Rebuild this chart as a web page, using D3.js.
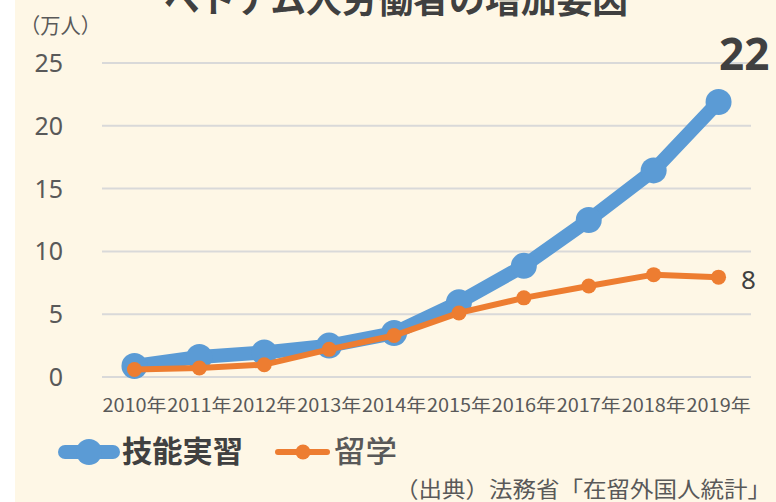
<!DOCTYPE html>
<html><head><meta charset="utf-8">
<script src="https://cdn.jsdelivr.net/npm/d3@7"></script>
<style>html,body{margin:0;padding:0;background:#fff;}svg{display:block;}</style>
</head><body>
<script>
const years = ["2010年","2011年","2012年","2013年","2014年","2015年","2016年","2017年","2018年","2019年"];
const ginou = [0.88, 1.6, 1.95, 2.5, 3.5, 5.95, 8.85, 12.5, 16.45, 21.9];
const ryugaku = [0.6, 0.72, 0.98, 2.2, 3.3, 5.1, 6.3, 7.25, 8.15, 7.95];
const yTicks = [0, 5, 10, 15, 20, 25];
const seriesNames = ["技能実習", "留学"];

const W = 776, H = 502;
const svg = d3.select("body").append("svg").attr("width", W).attr("height", H);
svg.append("rect").attr("x", 15).attr("y", 0).attr("width", W - 15).attr("height", H).attr("fill", "#FEF7E6");

const x = d3.scaleBand().domain(years).range([102, 751]);
const y = d3.scaleLinear().domain([0, 25]).range([377, 63]);
const cx = d => x(d) + x.bandwidth() / 2;
const font = "'Noto Sans CJK JP','Noto Sans',sans-serif";

// gridlines
svg.append("g").selectAll("line").data(yTicks).join("line")
  .attr("x1", 102).attr("x2", 751)
  .attr("y1", d => y(d)).attr("y2", d => y(d))
  .attr("stroke", "#D9D9D9").attr("stroke-width", 2);

// y labels
svg.append("g").selectAll("text").data(yTicks).join("text")
  .attr("x", 63).attr("y", d => y(d) + 9)
  .attr("text-anchor", "end").attr("font-family", "'Noto Sans',sans-serif")
  .attr("font-size", 25).attr("fill", "#595959").text(d => d);

// x labels
svg.append("g").selectAll("text").data(years).join("text")
  .attr("x", d => cx(d)).attr("y", 412)
  .attr("text-anchor", "middle").attr("font-family", font)
  .attr("font-size", 18).attr("fill", "#595959")
  .attr("textLength", 64).attr("lengthAdjust", "spacingAndGlyphs")
  .text(d => d);

const line = d3.line().x((d, i) => cx(years[i])).y(d => y(d));

// blue series
svg.append("path").datum(ginou).attr("d", line).attr("fill", "none")
  .attr("stroke", "#5B9BD5").attr("stroke-width", 14).attr("stroke-linejoin", "round");
svg.append("g").selectAll("circle").data(ginou).join("circle")
  .attr("cx", (d, i) => cx(years[i])).attr("cy", d => y(d)).attr("r", 13).attr("fill", "#5B9BD5");

// orange series
svg.append("path").datum(ryugaku).attr("d", line).attr("fill", "none")
  .attr("stroke", "#ED7D31").attr("stroke-width", 6).attr("stroke-linejoin", "round");
svg.append("g").selectAll("circle").data(ryugaku).join("circle")
  .attr("cx", (d, i) => cx(years[i])).attr("cy", d => y(d)).attr("r", 7.5).attr("fill", "#ED7D31");

// value labels
svg.append("text").attr("x", 719).attr("y", 70).attr("font-family", "'Noto Sans',sans-serif")
  .attr("font-size", 44).attr("font-weight", "bold").attr("fill", "#404040")
  .text(Math.round(ginou[ginou.length - 1]));
svg.append("text").attr("x", 741).attr("y", 289).attr("font-family", "'Noto Sans',sans-serif")
  .attr("font-size", 26).attr("fill", "#404040")
  .text(Math.round(ryugaku[ryugaku.length - 1]));

// title (partially cut at top)
svg.append("text").attr("x", 396).attr("y", 13).attr("text-anchor", "middle")
  .attr("font-family", font).attr("font-size", 36).attr("font-weight", "bold").attr("fill", "#404040")
  .attr("textLength", 464).attr("lengthAdjust", "spacingAndGlyphs")
  .text("ベトナム人労働者の増加要因");

// unit
svg.append("text").attr("x", 20).attr("y", 33).attr("font-family", font)
  .attr("font-size", 21).attr("fill", "#595959")
  .attr("textLength", 81).attr("lengthAdjust", "spacingAndGlyphs").text("（万人）");

// legend
const lg = svg.append("g");
lg.append("line").attr("x1", 65).attr("x2", 113).attr("y1", 452).attr("y2", 452)
  .attr("stroke", "#5B9BD5").attr("stroke-width", 14).attr("stroke-linecap", "round");
lg.append("circle").attr("cx", 89).attr("cy", 452).attr("r", 13).attr("fill", "#5B9BD5");
lg.append("text").attr("x", 122).attr("y", 462).attr("font-family", font)
  .attr("font-size", 30).attr("font-weight", "bold").attr("fill", "#404040")
  .attr("textLength", 121).attr("lengthAdjust", "spacingAndGlyphs").text(seriesNames[0]);
lg.append("line").attr("x1", 278).attr("x2", 327).attr("y1", 452).attr("y2", 452)
  .attr("stroke", "#ED7D31").attr("stroke-width", 6).attr("stroke-linecap", "round");
lg.append("circle").attr("cx", 303).attr("cy", 452).attr("r", 7.5).attr("fill", "#ED7D31");
lg.append("text").attr("x", 334).attr("y", 462).attr("font-family", font)
  .attr("font-size", 30).attr("font-weight", 500).attr("fill", "#595959")
  .attr("textLength", 63).attr("lengthAdjust", "spacingAndGlyphs").text(seriesNames[1]);

// source
svg.append("text").attr("x", 395).attr("y", 497).attr("font-family", font)
  .attr("font-size", 22).attr("fill", "#595959")
  .attr("textLength", 376).attr("lengthAdjust", "spacingAndGlyphs")
  .text("（出典）法務省「在留外国人統計」");
</script>
</body></html>
